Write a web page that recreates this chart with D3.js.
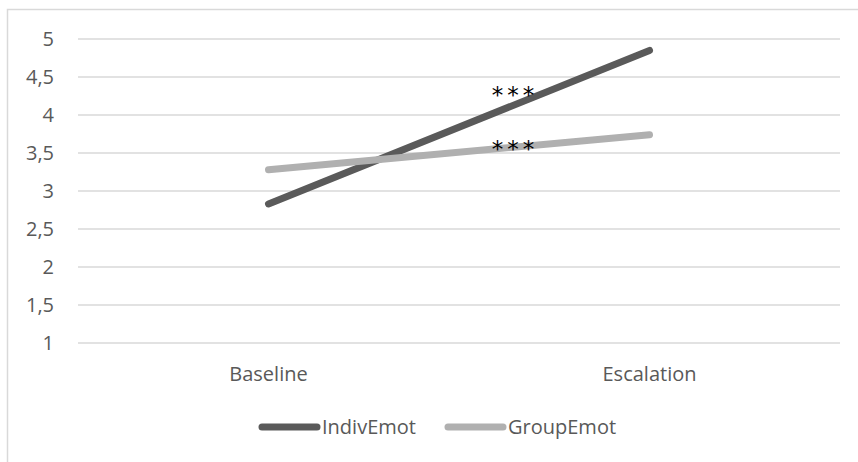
<!DOCTYPE html>
<html><head><meta charset="utf-8">
<script src="https://cdn.jsdelivr.net/npm/d3@7"></script>
<style>body{margin:0;background:#fff}svg{display:block}</style>
</head><body>
<svg id="c" width="858" height="462"></svg>
<script>
const categories = ["Baseline", "Escalation"];
const indivEmot = [2.83, 4.85];
const groupEmot = [3.28, 3.74];
const yTicks = [1, 1.5, 2, 2.5, 3, 3.5, 4, 4.5, 5];
const seriesNames = ["IndivEmot", "GroupEmot"];
const colors = ["#5a5a5a", "#b0b0b0"];
const annotations = ["***", "***"];
const annotationValues = [4.33, 3.62];

const svg = d3.select("#c");
const font = "'Open Sans', sans-serif";
const fs = 20;
svg.append("rect").attr("x", 7.5).attr("y", 9.5).attr("width", 900).attr("height", 500)
  .attr("fill", "none").attr("stroke", "#d9d9d9").attr("stroke-width", 1.5);

const x = d3.scaleBand().domain(categories).range([78, 840]);
const y = d3.scaleLinear().domain([1, 5]).range([343, 39]);

svg.append("g").selectAll("line").data(yTicks).join("line")
  .attr("x1", 78).attr("x2", 840)
  .attr("y1", d => y(d)).attr("y2", d => y(d))
  .attr("stroke", "#d9d9d9").attr("stroke-width", 1.3);

const fmt = d => String(d).replace(".", ",");
svg.append("g").selectAll("text").data(yTicks).join("text")
  .attr("x", 54).attr("y", d => y(d)).attr("dy", "0.36em")
  .attr("text-anchor", "end").attr("font-family", font).attr("font-size", fs)
  .attr("fill", "#595959").text(fmt);

svg.append("g").selectAll("text").data(categories).join("text")
  .attr("x", d => x(d) + x.bandwidth() / 2).attr("y", 374).attr("dy", "0.36em")
  .attr("text-anchor", "middle").attr("font-family", font).attr("font-size", fs)
  .attr("fill", "#595959").text(d => d);

const series = [indivEmot, groupEmot];
const line = d3.line().x((d, i) => x(categories[i]) + x.bandwidth() / 2).y(d => y(d));
svg.append("g").selectAll("path").data(series).join("path")
  .attr("d", d => line(d)).attr("fill", "none")
  .attr("stroke", (d, i) => colors[i]).attr("stroke-width", 7)
  .attr("stroke-linecap", "round");

svg.append("g").selectAll("text").data(annotations).join("text")
  .attr("x", 515).attr("y", (d, i) => y(annotationValues[i]) + 13)
  .attr("text-anchor", "middle").attr("font-family", "'DejaVu Sans', sans-serif")
  .attr("font-size", 23).attr("letter-spacing", 4).attr("fill", "#000").text(d => d);

const legX = [262, 448];
const lg = svg.append("g");
seriesNames.forEach((n, i) => {
  lg.append("line").attr("x1", legX[i]).attr("x2", legX[i] + 55).attr("y1", 427).attr("y2", 427)
    .attr("stroke", colors[i]).attr("stroke-width", 7).attr("stroke-linecap", "round");
  lg.append("text").attr("x", legX[i] + 60).attr("y", 427).attr("dy", "0.36em")
    .attr("font-family", font).attr("font-size", fs).attr("fill", "#595959").text(n);
});
</script>
</body></html>
